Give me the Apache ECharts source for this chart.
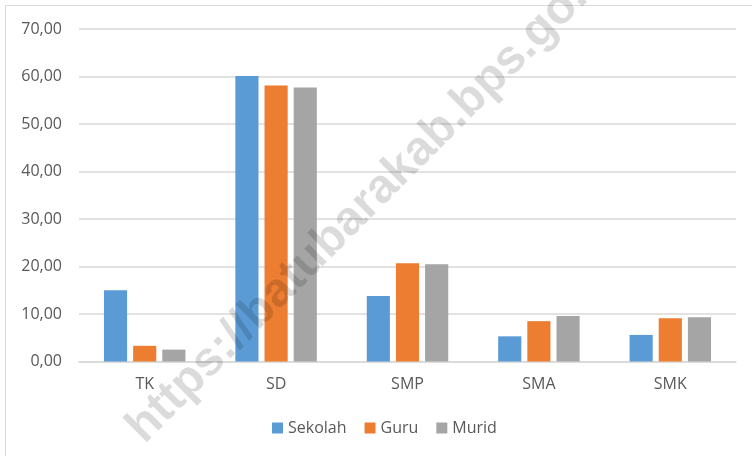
<!DOCTYPE html>
<html>
<head>
<meta charset="utf-8">
<script src="https://cdn.jsdelivr.net/npm/echarts@6/dist/echarts.min.js"></script>
<style>
  html, body { margin: 0; padding: 0; background: #fff; }
  #chart { width: 752px; height: 456px; }
</style>
</head>
<body>
<div id="chart"></div>
<script>
const categories = ['TK', 'SD', 'SMP', 'SMA', 'SMK']
const sekolah = [15.0, 60.1, 13.8, 5.3, 5.6]
const guru = [3.3, 58.1, 20.7, 8.5, 9.1]
const murid = [2.5, 57.7, 20.5, 9.6, 9.3]
const seriesNames = ['Sekolah', 'Guru', 'Murid']
const colors = ['#5B9BD5', '#ED7D31', '#A5A5A5']

const font = '"Open Sans", sans-serif'
const chart = echarts.init(document.getElementById('chart'))

function bar (name, data) {
  return {
    name,
    type: 'bar',
    data,
    barGap: '26%',
    barCategoryGap: '38%'
  }
}

chart.setOption({
  animation: false,
  color: colors,
  grid: { left: 79, right: 16, top: 29, bottom: 94.5 },
  legend: {
    left: 272,
    top: 420,
    padding: 0,
    itemWidth: 11,
    itemHeight: 11,
    itemGap: 18,
    icon: 'rect',
    textStyle: { fontFamily: font, fontSize: 16, color: '#595959' },
    data: seriesNames
  },
  xAxis: {
    type: 'category',
    data: categories,
    axisLine: { lineStyle: { color: '#d9d9d9', width: 1.5 } },
    axisTick: { show: false },
    axisLabel: { fontFamily: font, fontSize: 16, color: '#595959', margin: 15 }
  },
  yAxis: {
    type: 'value',
    min: 0,
    max: 70,
    interval: 10,
    axisLine: { show: false },
    axisTick: { show: false },
    splitLine: { lineStyle: { color: '#d9d9d9', width: 1.5 } },
    axisLabel: {
      fontFamily: font,
      fontSize: 16,
      color: '#595959',
      margin: 17,
      formatter: v => v.toFixed(2).replace('.', ',')
    }
  },
  series: [
    bar(seriesNames[0], sekolah),
    bar(seriesNames[1], guru),
    bar(seriesNames[2], murid)
  ],
  graphic: [
    {
      type: 'rect',
      shape: { x: 5.5, y: 5.5, width: 800, height: 500 },
      style: { fill: 'none', stroke: '#d9d9d9', lineWidth: 1 },
      z: 0
    },
    {
      type: 'text',
      x: 152,
      y: 452,
      rotation: Math.PI / 4,
      style: {
        text: 'https://batubarakab.bps.go.id',
        font: 'bold 48px "Liberation Sans", Arial, sans-serif',
        fill: 'rgba(0,0,0,0.14)',
        textAlign: 'left',
        textVerticalAlign: 'bottom'
      },
      z: 100
    }
  ]
})
</script>
</body>
</html>
